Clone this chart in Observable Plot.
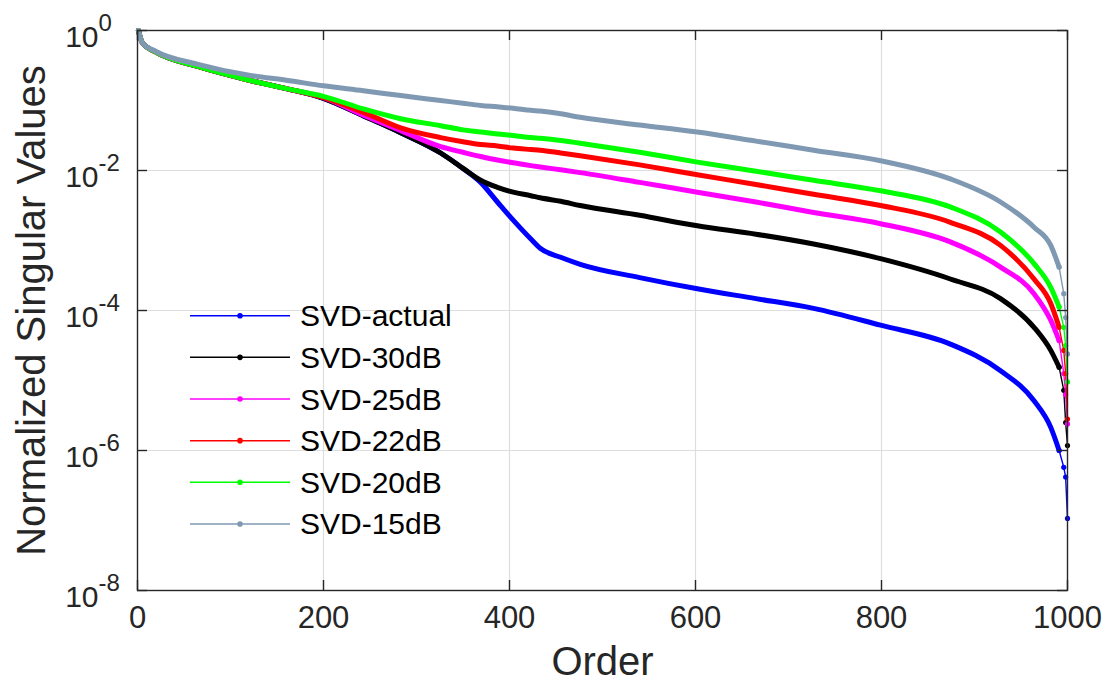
<!DOCTYPE html>
<html><head><meta charset="utf-8">
<script src="https://cdn.jsdelivr.net/npm/d3@7"></script>
<script src="https://cdn.jsdelivr.net/npm/@observablehq/plot@0.6"></script>
<style>
body{margin:0;background:#fff;}
#chart{width:1110px;height:694px;}
</style>
</head><body><div id="chart"></div>
<script>
// Order (index of singular value) at which values were read
const order = [1, 5, 20, 64, 120, 160, 200, 243, 283, 326, 350, 369, 387, 404, 423, 433, 455, 476, 540, 602, 665, 727, 799, 874, 928, 964, 982, 991, 996, 998, 1000];
// log10 of the normalized singular values, per series
const expActual = [0, -0.17, -0.31, -0.51, -0.71, -0.83, -0.97, -1.22, -1.46, -1.75, -1.97, -2.17, -2.45, -2.71, -2.98, -3.11, -3.24, -3.34, -3.53, -3.69, -3.83, -3.97, -4.21, -4.48, -4.86, -5.29, -5.67, -6.0, -6.24, -6.38, -6.97];
const exp30dB = [0, -0.17, -0.31, -0.51, -0.71, -0.83, -0.97, -1.22, -1.46, -1.75, -1.97, -2.14, -2.24, -2.31, -2.36, -2.39, -2.44, -2.5, -2.64, -2.79, -2.91, -3.05, -3.26, -3.55, -3.83, -4.24, -4.57, -4.81, -5.14, -5.6, -5.93];
const exp25dB = [0, -0.17, -0.31, -0.51, -0.71, -0.83, -0.96, -1.21, -1.43, -1.66, -1.74, -1.8, -1.85, -1.89, -1.93, -1.95, -1.99, -2.03, -2.17, -2.31, -2.45, -2.6, -2.76, -3.02, -3.38, -3.76, -4.14, -4.43, -4.9, -5.2, -5.62];
const exp22dB = [0, -0.17, -0.31, -0.51, -0.71, -0.83, -0.96, -1.17, -1.39, -1.53, -1.59, -1.63, -1.65, -1.68, -1.7, -1.71, -1.75, -1.79, -1.92, -2.06, -2.2, -2.34, -2.5, -2.74, -3.07, -3.55, -3.9, -4.24, -4.57, -4.9, -5.55];
const exp20dB = [0, -0.17, -0.31, -0.51, -0.71, -0.83, -0.94, -1.12, -1.26, -1.36, -1.42, -1.45, -1.48, -1.5, -1.53, -1.54, -1.57, -1.61, -1.74, -1.88, -2.01, -2.14, -2.29, -2.52, -2.88, -3.33, -3.67, -3.95, -4.24, -4.5, -5.02];
const exp15dB = [0, -0.17, -0.3, -0.48, -0.64, -0.71, -0.79, -0.86, -0.93, -1.0, -1.04, -1.07, -1.09, -1.11, -1.14, -1.15, -1.19, -1.24, -1.35, -1.45, -1.58, -1.71, -1.86, -2.12, -2.45, -2.81, -3.07, -3.38, -3.76, -4.1, -4.62];

const seriesNames = ["SVD-actual", "SVD-30dB", "SVD-25dB", "SVD-22dB", "SVD-20dB", "SVD-15dB"];
const seriesColors = ["#0000ff", "#000000", "#ff00ff", "#ff0000", "#00ff00", "#8099b3"];
const seriesExps = [expActual, exp30dB, exp25dB, exp22dB, exp20dB, exp15dB];

const xTicks = [0, 200, 400, 600, 800, 1000];
const yTickExps = [0, -2, -4, -6, -8];
const xLabel = "Order";
const yLabel = "Normalized Singular Values";

const ink = "#262626";
const font = "'Liberation Sans', Arial, Helvetica, sans-serif";
const tailStart = 991;

const marks = [];
// grid
marks.push(Plot.ruleX(xTicks.slice(1, -1), {x: d => d, stroke: "#dedede", strokeWidth: 1.2}));
marks.push(Plot.ruleY(yTickExps.slice(1, -1), {y: d => 10 ** d, stroke: "#dedede", strokeWidth: 1.2}));

seriesNames.forEach((name, s) => {
  const rows = order.map((o, j) => ({order: o, value: 10 ** seriesExps[s][j]}));
  const body = rows.filter(r => r.order <= tailStart);
  const tail = rows.filter(r => r.order >= tailStart);
  marks.push(Plot.line(body, {x: "order", y: "value", stroke: seriesColors[s], strokeWidth: 5, curve: "monotone-x", strokeLinecap: "round", strokeLinejoin: "round"}));
  marks.push(Plot.line(tail, {x: "order", y: "value", stroke: seriesColors[s], strokeWidth: 1.4}));
  marks.push(Plot.dot(tail, {x: "order", y: "value", fill: seriesColors[s], r: 2.6}));
});

// frame and inward ticks
marks.push(Plot.frame({stroke: ink, strokeWidth: 1.4}));
marks.push(Plot.ruleX(xTicks, {x: d => d, insetTop: 550, stroke: ink, strokeWidth: 1.4}));
marks.push(Plot.ruleX(xTicks, {x: d => d, insetBottom: 550, stroke: ink, strokeWidth: 1.4}));
marks.push(Plot.ruleY(yTickExps, {y: d => 10 ** d, insetRight: 920, stroke: ink, strokeWidth: 1.4}));
marks.push(Plot.ruleY(yTickExps, {y: d => 10 ** d, insetLeft: 920, stroke: ink, strokeWidth: 1.4}));

// tick labels
marks.push(Plot.text(xTicks, {x: d => d, frameAnchor: "bottom", dy: 37, text: d => String(d), fontSize: 31, fill: ink}));
marks.push(Plot.text(yTickExps, {y: d => 10 ** d, frameAnchor: "left", dx: -39, dy: 7, textAnchor: "end", text: () => "10", fontSize: 30, fill: ink}));
marks.push(Plot.text(yTickExps, {y: d => 10 ** d, frameAnchor: "left", dx: -39, dy: -7, textAnchor: "start", text: d => String(d), fontSize: 24, fill: ink}));
// axis labels
marks.push(Plot.text([xLabel], {frameAnchor: "bottom", dy: 84, text: d => d, fontSize: 40, fill: ink}));
marks.push(Plot.text([yLabel], {frameAnchor: "left", dx: -105, rotate: -90, textAnchor: "middle", text: d => d, fontSize: 40, fill: ink}));

const svg = Plot.plot({
  width: 1110, height: 694,
  marginLeft: 137, marginRight: 43, marginTop: 30, marginBottom: 104,
  x: {domain: [0, 1000], axis: null},
  y: {type: "log", domain: [1e-8, 1], axis: null},
  style: {fontFamily: font, background: "#fff", overflow: "visible"},
  marks
});

// legend (no box)
const lg = d3.select(svg).append("g").attr("font-family", font).attr("text-anchor", "start");
seriesNames.forEach((name, i) => {
  const y = 315.7 + i * 41.65;
  lg.append("line").attr("x1", 190).attr("x2", 290).attr("y1", y).attr("y2", y)
    .attr("stroke", seriesColors[i]).attr("stroke-width", 1.5);
  lg.append("circle").attr("cx", 240).attr("cy", y).attr("r", 2.8).attr("fill", seriesColors[i]);
  lg.append("text").attr("x", 300).attr("y", y + 10.5).attr("font-size", 30)
    .attr("text-anchor", "start").attr("fill", "#000").text(name);
});

document.getElementById("chart").appendChild(svg);
</script>
</body></html>
